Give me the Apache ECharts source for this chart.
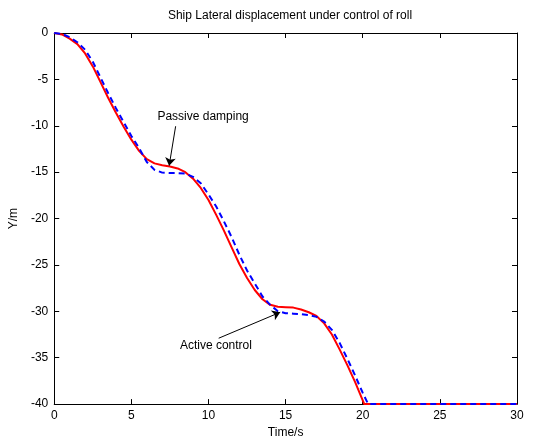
<!DOCTYPE html>
<html>
<head>
<meta charset="utf-8">
<script src="https://cdn.jsdelivr.net/npm/echarts@6/dist/echarts.min.js"></script>
<style>
html,body{margin:0;padding:0;background:#fff;}
#chart{width:533px;height:444px;}
</style>
</head>
<body>
<div id="chart"></div>
<script>
var titleText = 'Ship Lateral displacement under control of roll';
var xName = 'Time/s';
var yName = 'Y/m';
var xTicks = [0, 5, 10, 15, 20, 25, 30];
var yTicks = [0, -5, -10, -15, -20, -25, -30, -35, -40];

var passiveT = [0, 0.5, 1.0, 1.5, 2.0, 2.5, 3.0, 3.5, 4.0, 4.5, 5.0, 5.5, 6.0, 6.5, 7.0, 7.5, 8.0, 8.5, 9.0, 9.5, 10.0, 10.5, 11.0, 11.5, 12.0, 12.5, 13.0, 13.5, 14.0, 14.5, 15.0, 15.5, 16.0, 16.5, 17.0, 17.5, 18.0, 18.5, 19.0, 19.5, 20.1, 30];
var passiveY = [0, -0.15, -0.6, -1.2, -2.2, -3.6, -5.3, -7.0, -8.6, -10.1, -11.5, -12.7, -13.6, -14.05, -14.25, -14.4, -14.6, -15.0, -15.7, -16.7, -18.0, -19.6, -21.3, -23.1, -24.9, -26.4, -27.7, -28.7, -29.3, -29.5, -29.55, -29.6, -29.8, -30.1, -30.5, -31.3, -32.5, -34.1, -35.8, -37.6, -40, -40];

var activeT = [0, 0.5, 1.0, 1.5, 2.0, 2.5, 3.0, 3.5, 4.0, 4.5, 5.0, 5.5, 6.0, 6.5, 7.0, 7.5, 8.0, 8.5, 9.0, 9.5, 10.0, 10.5, 11.0, 11.5, 12.0, 12.5, 13.0, 13.5, 14.0, 14.5, 15.0, 15.5, 16.0, 16.5, 17.0, 17.5, 18.0, 18.5, 19.0, 19.5, 20.0, 20.35, 30];
var activeY = [0, -0.1, -0.45, -1.0, -1.8, -3.1, -4.8, -6.5, -8.1, -9.6, -11.1, -12.4, -13.9, -14.75, -15.05, -15.1, -15.1, -15.15, -15.5, -16.2, -17.4, -18.7, -20.3, -22.0, -23.9, -25.6, -27.0, -28.4, -29.3, -30.0, -30.2, -30.25, -30.3, -30.4, -30.6, -31.1, -32.0, -33.4, -35.1, -36.9, -38.8, -40, -40];

var annoLabels = ['Passive damping', 'Active control'];
var annoTextPos = [[9.65, -9.0], [10.48, -33.66]];
var annoArrowFrom = [[7.87, -10.05], [10.66, -32.9]];
var annoArrowTo = [[7.45, -14.3], [14.65, -30.1]];

function pairs(t, y) { return t.map(function (v, i) { return [v, y[i]]; }); }

var chart = echarts.init(document.getElementById('chart'), null, {renderer: 'canvas'});
var font = 'Liberation Sans, Arial, Helvetica, sans-serif';
var axisCommon = {
  axisLine: {show: true, onZero: false, lineStyle: {color: '#000', width: 1}},
  axisTick: {show: true, inside: true, length: 5, lineStyle: {color: '#000'}},
  splitLine: {show: false}
};

chart.setOption({
  animation: false,
  backgroundColor: '#fff',
  textStyle: {fontFamily: font},
  title: {
    text: titleText, left: 285, top: 5, textAlign: 'center',
    textStyle: {fontSize: 12, fontWeight: 'normal', color: '#000', fontFamily: font}
  },
  grid: {left: 53, right: 16, top: 33, bottom: 38, containLabel: false},
  xAxis: [
    Object.assign({type: 'value', min: 0, max: 30, interval: 5, position: 'bottom',
      name: xName, nameLocation: 'middle', nameGap: 22,
      nameTextStyle: {fontSize: 12, color: '#000', fontFamily: font},
      axisLabel: {show: true, color: '#000', fontSize: 12, margin: 6, fontFamily: font,
        formatter: function (v) { return xTicks.indexOf(v) >= 0 ? String(v) : ''; }}}, axisCommon),
    Object.assign({type: 'value', min: 0, max: 30, interval: 5, position: 'top',
      axisLabel: {show: false}}, axisCommon)
  ],
  yAxis: [
    Object.assign({type: 'value', min: -40, max: 0, interval: 5, position: 'left',
      name: yName, nameLocation: 'middle', nameGap: 31, nameRotate: 90,
      nameTextStyle: {fontSize: 12, color: '#000', fontFamily: font},
      axisLabel: {show: true, color: '#000', fontSize: 12, margin: 6, fontFamily: font,
        formatter: function (v) { return yTicks.indexOf(v) >= 0 ? String(v) : ''; }}}, axisCommon),
    Object.assign({type: 'value', min: -40, max: 0, interval: 5, position: 'right',
      axisLabel: {show: false}}, axisCommon)
  ],
  series: [
    {
      name: 'Passive damping', type: 'line', data: pairs(passiveT, passiveY),
      showSymbol: false, smooth: false,
      lineStyle: {color: '#ff0000', width: 2, type: 'solid', join: 'round'}, z: 2,
      markPoint: {
        symbol: 'circle', symbolSize: 0, silent: true,
        data: [{coord: annoTextPos[0], label: {show: true, position: 'inside', formatter: annoLabels[0], color: '#000', fontSize: 12, fontFamily: font}}]
      },
      markLine: {
        silent: true, symbol: ['none', 'arrow'], symbolSize: 8,
        lineStyle: {color: '#000', width: 1, type: 'solid'}, label: {show: false},
        data: [[{coord: annoArrowFrom[0]}, {coord: annoArrowTo[0]}]]
      }
    },
    {
      name: 'Active control', type: 'line', data: pairs(activeT, activeY),
      showSymbol: false, smooth: false,
      lineStyle: {color: '#0000ff', width: 2, type: [6, 4], join: 'round'}, z: 3,
      markPoint: {
        symbol: 'circle', symbolSize: 0, silent: true,
        data: [{coord: annoTextPos[1], label: {show: true, position: 'inside', formatter: annoLabels[1], color: '#000', fontSize: 12, fontFamily: font}}]
      },
      markLine: {
        silent: true, symbol: ['none', 'arrow'], symbolSize: 8,
        lineStyle: {color: '#000', width: 1, type: 'solid'}, label: {show: false},
        data: [[{coord: annoArrowFrom[1]}, {coord: annoArrowTo[1]}]]
      }
    }
  ]
});
</script>
</body>
</html>
